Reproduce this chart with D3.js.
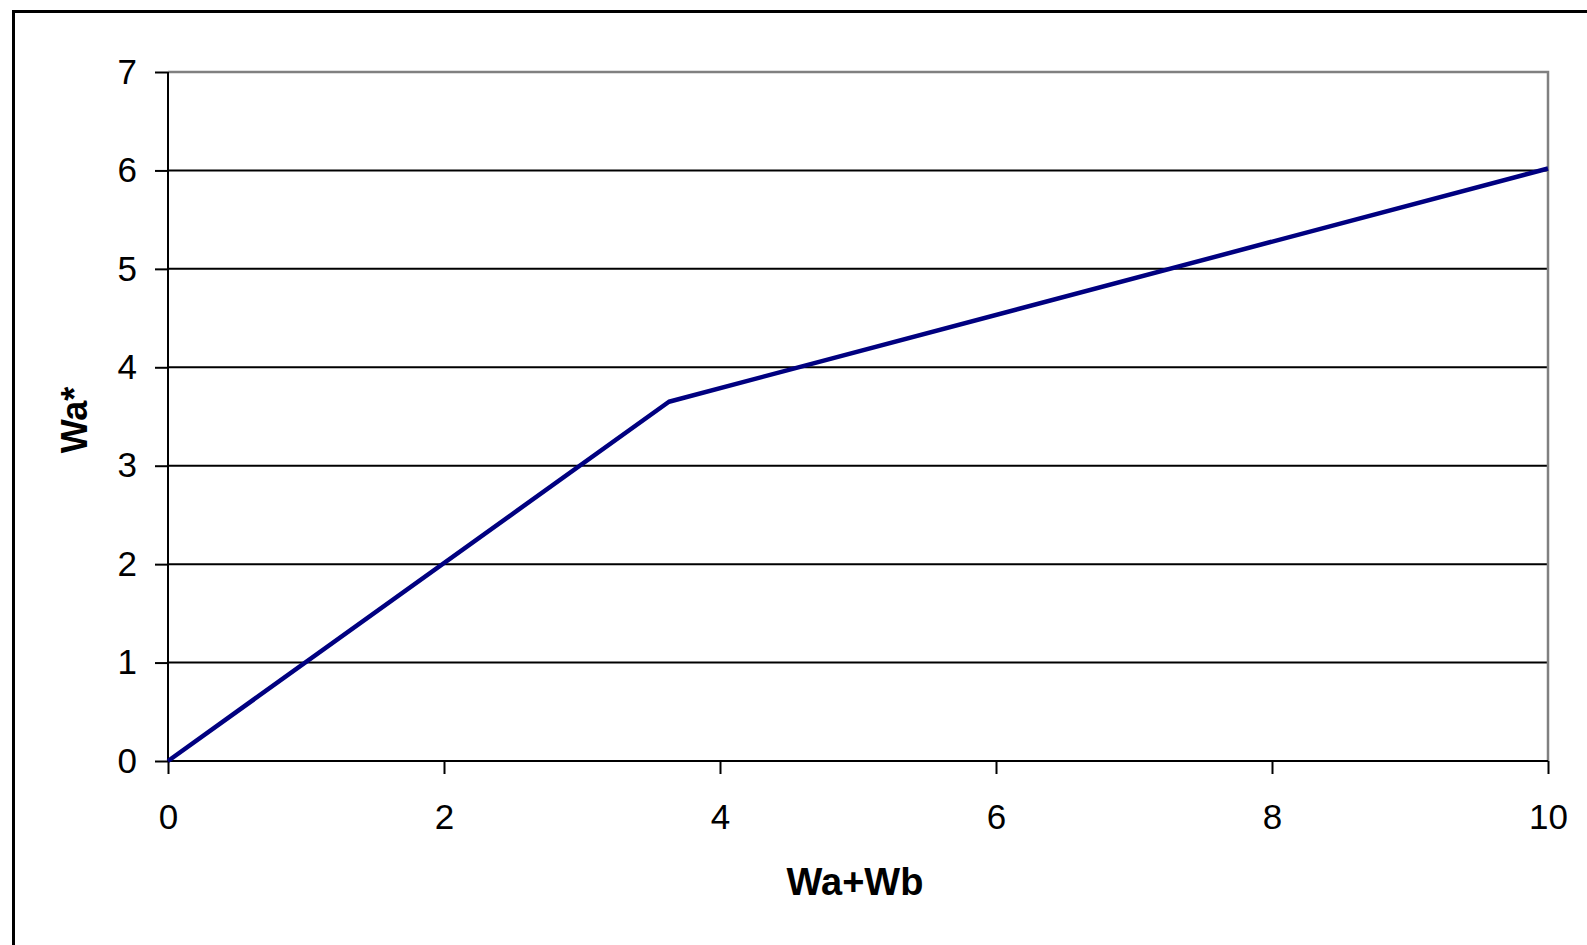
<!DOCTYPE html>
<html>
<head>
<meta charset="utf-8">
<script src="https://cdn.jsdelivr.net/npm/d3@7"></script>
<style>
  html, body { margin: 0; padding: 0; background: #fff; }
  svg { display: block; }
  text { font-family: "Liberation Sans", Arial, sans-serif; fill: #000; }
</style>
</head>
<body>
<script>
// ---- data ----
const xValues = [0, 3.63, 10];
const yValues = [0, 3.65, 6.02];
const xTicks = [0, 2, 4, 6, 8, 10];
const yTicks = [0, 1, 2, 3, 4, 5, 6, 7];
const xTitle = "Wa+Wb";
const yTitle = "Wa*";

(function () {
const W = 1587, H = 945;
const pLeft = 168, pRight = 1548, pTop = 72, pBottom = 761;

const svg = d3.select("body").append("svg").attr("width", W).attr("height", H);
svg.append("rect").attr("width", W).attr("height", H).attr("fill", "#fff");

// outer chart border (extends beyond picture right/bottom)
svg.append("rect").attr("x", 13.5).attr("y", 11.5).attr("width", 1700).attr("height", 1000)
  .attr("fill", "none").attr("stroke", "#000").attr("stroke-width", 3);

const x = d3.scaleLinear().domain([0, 10]).range([pLeft, pRight]);
const y = d3.scaleLinear().domain([0, 7]).range([pBottom, pTop]);

// gridlines
svg.append("g").selectAll("line").data(yTicks.filter(d => d > 0 && d < 7)).join("line")
  .attr("x1", pLeft).attr("x2", pRight)
  .attr("y1", d => y(d)).attr("y2", d => y(d))
  .attr("stroke", "#000").attr("stroke-width", 2);

// plot frame top & right (grey)
svg.append("path")
  .attr("d", `M${pLeft},${y(7)}H${pRight}V${pBottom}`)
  .attr("fill", "none").attr("stroke", "#808080").attr("stroke-width", 2.5);

// y axis
const yAxis = d3.axisLeft(y).tickValues(yTicks).tickSize(13).tickPadding(18).tickFormat(d3.format("d"));
const gy = svg.append("g").attr("transform", `translate(${pLeft},0)`).call(yAxis);
gy.select(".domain").remove();
gy.selectAll(".tick line").attr("stroke", "#000").attr("stroke-width", 2);
gy.selectAll(".tick text").attr("font-size", 35).attr("font-family", "Liberation Sans, Arial, sans-serif").attr("fill", "#000");
svg.append("line").attr("x1", pLeft).attr("x2", pLeft).attr("y1", pTop).attr("y2", pBottom)
  .attr("stroke", "#000").attr("stroke-width", 2);

// x axis
const xAxis = d3.axisBottom(x).tickValues(xTicks).tickSize(13).tickPadding(30).tickFormat(d3.format("d"));
const gx = svg.append("g").attr("transform", `translate(0,${pBottom})`).call(xAxis);
gx.select(".domain").remove();
gx.selectAll(".tick line").attr("stroke", "#000").attr("stroke-width", 2);
gx.selectAll(".tick text").attr("font-size", 35).attr("font-family", "Liberation Sans, Arial, sans-serif").attr("fill", "#000");
svg.append("line").attr("x1", pLeft).attr("x2", pRight).attr("y1", pBottom).attr("y2", pBottom)
  .attr("stroke", "#000").attr("stroke-width", 2);

// data line
const pts = xValues.map((v, i) => [v, yValues[i]]);
svg.append("path").datum(pts)
  .attr("d", d3.line().x(d => x(d[0])).y(d => y(d[1])))
  .attr("fill", "none").attr("stroke", "#000080").attr("stroke-width", 4.5)
  .attr("stroke-linejoin", "round").attr("stroke-linecap", "butt");

// titles
svg.append("text").attr("x", 855).attr("y", 895)
  .attr("text-anchor", "middle").attr("font-size", 38).attr("font-weight", "bold").text(xTitle);
svg.append("text").attr("transform", `translate(87,420) rotate(-90)`)
  .attr("text-anchor", "middle").attr("font-size", 36).attr("font-weight", "bold").text(yTitle);
})();
</script>
</body>
</html>
